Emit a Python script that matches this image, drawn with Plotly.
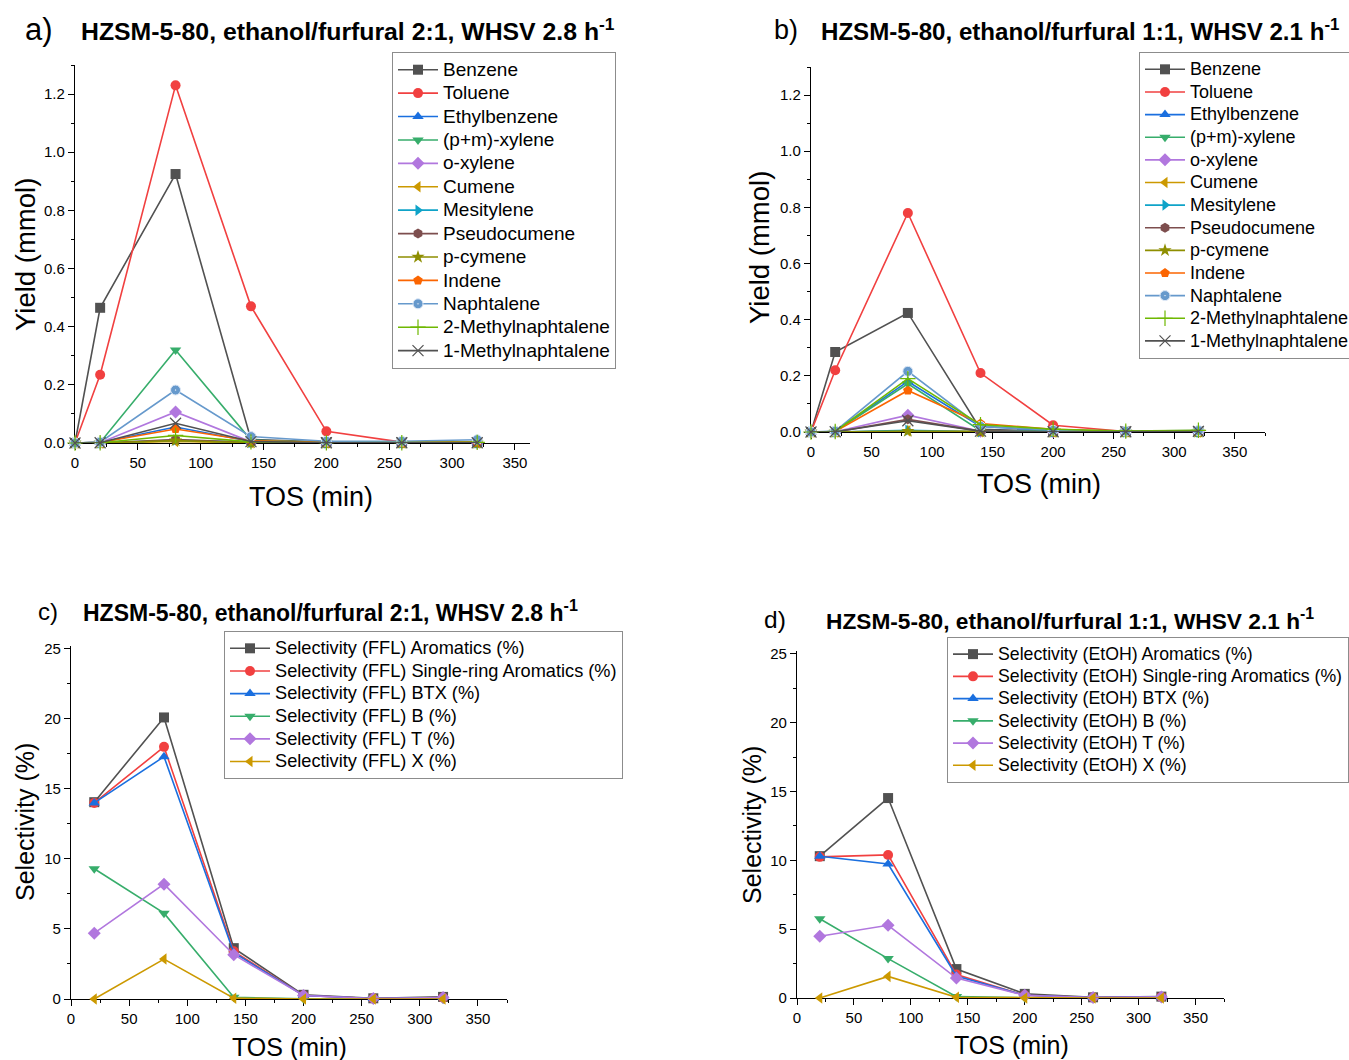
import plotly.graph_objects as go

W, H = 1349, 1060

# ---------------- data ----------------
tos_yield = [0, 20, 80, 140, 200, 260, 320]
compounds = ["Benzene", "Toluene", "Ethylbenzene", "(p+m)-xylene", "o-xylene", "Cumene",
             "Mesitylene", "Pseudocumene", "p-cymene", "Indene", "Naphtalene",
             "2-Methylnaphtalene", "1-Methylnaphtalene"]

# panel a: ethanol/furfural 2:1, WHSV 2.8 h-1 (yield, mmol)
yield_a_benzene = [0, 0.465, 0.925, 0.012, 0.003, 0.002, 0.003]
yield_a_toluene = [0, 0.235, 1.23, 0.47, 0.04, 0.003, 0.004]
yield_a_ethylbenzene = [0, 0.002, 0.055, 0.005, 0.001, 0.001, 0.001]
yield_a_pm_xylene = [0, 0.002, 0.32, 0.01, 0.002, 0.001, 0.002]
yield_a_o_xylene = [0, 0.001, 0.107, 0.004, 0.001, 0.001, 0.001]
yield_a_cumene = [0, 0, 0.005, 0.001, 0, 0, 0]
yield_a_mesitylene = [0, 0, 0.01, 0.002, 0, 0, 0]
yield_a_pseudocumene = [0, 0, 0.012, 0.002, 0, 0, 0]
yield_a_p_cymene = [0, 0, 0.008, 0.001, 0, 0, 0]
yield_a_indene = [0, 0.002, 0.048, 0.008, 0.002, 0.001, 0.002]
yield_a_naphtalene = [0, 0.003, 0.182, 0.022, 0.006, 0.006, 0.011]
yield_a_2mn = [0, 0.001, 0.026, 0.004, 0.001, 0.001, 0.002]
yield_a_1mn = [0, 0.001, 0.068, 0.005, 0.001, 0.001, 0.001]

# panel b: ethanol/furfural 1:1, WHSV 2.1 h-1 (yield, mmol)
yield_b_benzene = [0, 0.285, 0.424, 0.01, 0.003, 0.002, 0.002]
yield_b_toluene = [0, 0.22, 0.78, 0.21, 0.024, 0.002, 0.003]
yield_b_ethylbenzene = [0, 0.002, 0.18, 0.02, 0.005, 0.001, 0.004]
yield_b_pm_xylene = [0, 0.002, 0.172, 0.005, 0.003, 0.001, 0.003]
yield_b_o_xylene = [0, 0.001, 0.06, 0.003, 0.001, 0.001, 0.001]
yield_b_cumene = [0, 0, 0.004, 0.001, 0, 0, 0]
yield_b_mesitylene = [0, 0, 0.006, 0.001, 0, 0, 0]
yield_b_pseudocumene = [0, 0, 0.045, 0.003, 0.001, 0, 0.001]
yield_b_p_cymene = [0, 0, 0.003, 0.001, 0, 0, 0]
yield_b_indene = [0, 0.002, 0.148, 0.03, 0.01, 0.002, 0.004]
yield_b_naphtalene = [0, 0.003, 0.216, 0.02, 0.006, 0.003, 0.005]
yield_b_2mn = [0, 0.002, 0.19, 0.026, 0.01, 0.003, 0.006]
yield_b_1mn = [0, 0.001, 0.04, 0.003, 0.001, 0.001, 0.002]

tos_sel = [20, 80, 140, 200, 260, 320]
sel_groups = ["Aromatics", "Single-ring Aromatics", "BTX", "B", "T", "X"]

# panel c: selectivity based on furfural (%)
sel_c_aromatics = [14.05, 20.1, 3.63, 0.3, 0.05, 0.15]
sel_c_single_ring = [14.0, 18.0, 3.4, 0.25, 0.04, 0.1]
sel_c_btx = [14.0, 17.3, 3.3, 0.25, 0.04, 0.1]
sel_c_b = [9.3, 6.13, 0.12, 0.02, 0.0, 0.0]
sel_c_t = [4.7, 8.2, 3.16, 0.25, 0.04, 0.1]
sel_c_x = [0.0, 2.85, 0.06, 0.0, 0.0, 0.0]

# panel d: selectivity based on ethanol (%)
sel_d_aromatics = [10.3, 14.52, 2.1, 0.3, 0.05, 0.1]
sel_d_single_ring = [10.25, 10.39, 1.7, 0.2, 0.04, 0.08]
sel_d_btx = [10.3, 9.73, 1.6, 0.2, 0.04, 0.08]
sel_d_b = [5.76, 2.86, 0.1, 0.02, 0.0, 0.0]
sel_d_t = [4.48, 5.28, 1.45, 0.2, 0.04, 0.08]
sel_d_x = [0.0, 1.57, 0.05, 0.0, 0.0, 0.0]

yields_a = [yield_a_benzene, yield_a_toluene, yield_a_ethylbenzene, yield_a_pm_xylene,
            yield_a_o_xylene, yield_a_cumene, yield_a_mesitylene, yield_a_pseudocumene,
            yield_a_p_cymene, yield_a_indene, yield_a_naphtalene, yield_a_2mn, yield_a_1mn]
yields_b = [yield_b_benzene, yield_b_toluene, yield_b_ethylbenzene, yield_b_pm_xylene,
            yield_b_o_xylene, yield_b_cumene, yield_b_mesitylene, yield_b_pseudocumene,
            yield_b_p_cymene, yield_b_indene, yield_b_naphtalene, yield_b_2mn, yield_b_1mn]
sels_c = [sel_c_aromatics, sel_c_single_ring, sel_c_btx, sel_c_b, sel_c_t, sel_c_x]
sels_d = [sel_d_aromatics, sel_d_single_ring, sel_d_btx, sel_d_b, sel_d_t, sel_d_x]

# ---------------- styles ----------------
FONT = "Liberation Sans, Arial, sans-serif"
colors = ["#515151", "#F14040", "#1A6FDF", "#37AD6B", "#B177DE", "#CC9900",
          "#0FA3C8", "#7D4E4E", "#8E8E00", "#FB6501", "#6699CC", "#6FB802", "#515151"]
symbols = ["square", "circle", "triangle-up", "triangle-down", "diamond", "triangle-left",
           "triangle-right", "hexagon", "star", "pentagon", "circle-dot", "cross-thin", "x-thin"]


def px_x(p):
    return p / W


def px_y(p):
    return 1 - p / H


fig = go.Figure()


def add_series(x, y, name, color, symbol, xa, ya, legend, label_size):
    thin = symbol in ("cross-thin", "x-thin")
    if thin:
        marker = dict(symbol=symbol, size=11, color=color, line=dict(color=color, width=1.2))
    elif symbol == "circle-dot":
        marker = dict(symbol=symbol, size=10, color=color, line=dict(color="#dde8f6", width=1))
    else:
        marker = dict(symbol=symbol, size=10, color=color, line=dict(width=0))
    fig.add_trace(go.Scatter(
        x=x, y=y, mode="lines+markers",
        name=f'<span style="font-size:{label_size}px">{name}</span>',
        line=dict(color=color, width=1.6), marker=marker,
        xaxis=xa, yaxis=ya, legend=legend, cliponaxis=False))


for name, ys, c, s in zip(compounds, yields_a, colors, symbols):
    add_series(tos_yield, ys, name, c, s, "x", "y", "legend", 19)
for name, ys, c, s in zip(compounds, yields_b, colors, symbols):
    add_series(tos_yield, ys, name, c, s, "x2", "y2", "legend2", 18)
for g, ys, c, s in zip(sel_groups, sels_c, colors[:6], symbols[:6]):
    add_series(tos_sel, ys, f"Selectivity (FFL) {g} (%)", c, s, "x3", "y3", "legend3", 18.2)
for g, ys, c, s in zip(sel_groups, sels_d, colors[:6], symbols[:6]):
    add_series(tos_sel, ys, f"Selectivity (EtOH) {g} (%)", c, s, "x4", "y4", "legend4", 17.7)


def xaxis(left, right, anchor, xmax):
    return dict(domain=[px_x(left), px_x(right)], anchor=anchor, range=[0, xmax],
                tickmode="linear", tick0=0, dtick=50, ticks="outside", ticklen=6,
                tickwidth=1.3, tickcolor="black", showline=True, linecolor="black",
                linewidth=1.3, showgrid=False, zeroline=False, layer="below traces",
                tickfont=dict(family=FONT, size=15, color="black"),
                minor=dict(dtick=25, ticks="outside", ticklen=3, tickwidth=1.2,
                           tickcolor="black", showgrid=False))


def yaxis(top, bottom, anchor, ymax, dtick, minor, fmt):
    return dict(domain=[px_y(bottom), px_y(top)], anchor=anchor, range=[0, ymax],
                tickmode="linear", tick0=0, dtick=dtick, tickformat=fmt,
                ticks="outside", ticklen=6, tickwidth=1.3, tickcolor="black",
                showline=True, linecolor="black", linewidth=1.3, showgrid=False,
                zeroline=False, layer="below traces",
                tickfont=dict(family=FONT, size=15, color="black"),
                minor=dict(dtick=minor, ticks="outside", ticklen=3, tickwidth=1.2,
                           tickcolor="black", showgrid=False))


def legend_box(left, top, size):
    return dict(x=px_x(left), y=px_y(top), xanchor="left", yanchor="top",
                xref="paper", yref="paper", bgcolor="white", bordercolor="#8c8c8c",
                borderwidth=1, itemwidth=40, tracegroupgap=0,
                font=dict(family=FONT, size=size, color="black"))


fig.update_layout(
    width=W, height=H,
    margin=dict(l=0, r=0, t=0, b=0, autoexpand=False),
    paper_bgcolor="white", plot_bgcolor="white",
    font=dict(family=FONT, color="black"),
    xaxis=xaxis(75, 530, "y", 362),
    yaxis=yaxis(65, 443, "x", 1.3, 0.2, 0.1, ".1f"),
    xaxis2=xaxis(811, 1265, "y2", 375),
    yaxis2=yaxis(67, 432, "x2", 1.3, 0.2, 0.1, ".1f"),
    xaxis3=xaxis(71, 507, "y3", 375),
    yaxis3=yaxis(646, 999, "x3", 25.2, 5, 2.5, "d"),
    xaxis4=xaxis(797, 1224, "y4", 375),
    yaxis4=yaxis(651, 998, "x4", 25.2, 5, 2.5, "d"),
    legend=legend_box(392, 52, 15.7),
    legend2=legend_box(1139, 52, 15.1),
    legend3=legend_box(224, 631, 15.1),
    legend4=legend_box(947, 637, 14.8),
    showlegend=True,
)

title_a = "<b>HZSM-5-80, ethanol/furfural 2:1, WHSV 2.8 h<sup>-1</sup></b>"
title_b = "<b>HZSM-5-80, ethanol/furfural 1:1, WHSV 2.1 h<sup>-1</sup></b>"

annotations = [
    # panel letters and headings
    (23, 30, "a)", 31, 0, "left"), (79, 30, title_a, 24.8, 0, "left"),
    (772, 30, "b)", 27, 0, "left"), (819, 30, title_b, 24.1, 0, "left"),
    (36, 611, "c)", 24, 0, "left"), (81, 611, title_a, 23, 0, "left"),
    (762, 619, "d)", 24.5, 0, "left"), (824, 619, title_b, 22.7, 0, "left"),
    # axis titles
    (311, 497, "TOS (min)", 27, 0, "center"), (25, 255, "Yield (mmol)", 27.5, -90, "center"),
    (1039, 484, "TOS (min)", 27, 0, "center"), (760, 248, "Yield (mmol)", 27.5, -90, "center"),
    (289, 1047, "TOS (min)", 25, 0, "center"), (25, 822, "Selectivity (%)", 25, -90, "center"),
    (1011, 1045, "TOS (min)", 25, 0, "center"), (752, 825, "Selectivity (%)", 25, -90, "center"),
]
for x, y, text, size, angle, anchor in annotations:
    fig.add_annotation(x=px_x(x), y=px_y(y), xref="paper", yref="paper", text=text,
                       showarrow=False, xanchor=anchor, yanchor="middle", textangle=angle,
                       font=dict(family=FONT, size=size, color="black"))

fig.write_html("out.html")
